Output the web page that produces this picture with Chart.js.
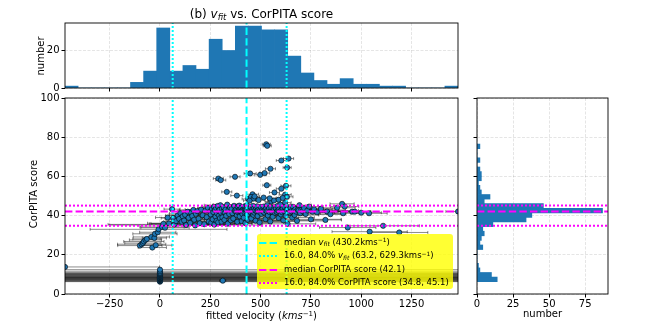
<!DOCTYPE html>
<html><head><meta charset="utf-8">
<script src="https://cdn.jsdelivr.net/npm/chart.js@4.4.0/dist/chart.umd.min.js"></script>
<style>
body{margin:0;background:#fff;}
#wrap{position:relative;width:654px;height:327px;overflow:hidden;font-family:'DejaVu Sans',sans-serif;color:#000;}
canvas{position:absolute;}
.t{position:absolute;white-space:nowrap;line-height:1;}
.rot{transform:translate(-50%,-50%) rotate(-90deg);}
.sub{font-size:70%;position:relative;top:0.25em;font-style:italic;}
.sup{font-size:70%;position:relative;top:-0.45em;}
#legend{position:absolute;left:257px;top:234px;width:196px;height:55px;background:rgba(255,255,0,0.8);border-radius:3px;}
#legend .row{position:absolute;left:0;height:12px;width:196px;}
#legend svg{position:absolute;left:2px;top:4px;}
#legend span.lt{position:absolute;left:27px;top:1px;font-size:8.5px;white-space:nowrap;line-height:1;}
</style></head><body>
<div id="wrap">
<canvas id="cTop" style="left:0;top:0" width="470" height="96"></canvas>
<canvas id="cMain" style="left:0;top:88px" width="470" height="239"></canvas>
<canvas id="cRight" style="left:462px;top:88px" width="192" height="239"></canvas>

<div class="t" style="left:0;width:523px;top:8px;text-align:center;font-size:12px">(b) <i>v</i><span class="sub">fit</span> vs. CorPITA score</div>
<div class="t rot" style="left:41px;top:55.5px;font-size:10px">number</div>
<div class="t rot" style="left:34px;top:194px;font-size:10px">CorPITA score</div>
<div class="t" style="left:261.5px;top:316px;transform:translate(-50%,-50%);font-size:10px">fitted velocity (<i>kms</i><span class="sup">−1</span>)</div>
<div class="t" style="left:542.5px;top:314px;transform:translate(-50%,-50%);font-size:10px">number</div>

<div id="legend">
 <div class="row" style="top:3px"><svg width="18" height="4"><line x1="0" y1="2" x2="18" y2="2" stroke="#00ffff" stroke-width="2" stroke-dasharray="7.4 3.2"/></svg><span class="lt">median <i>v</i><span class="sub">fit</span> (430.2kms<span class="sup">−1</span>)</span></div>
 <div class="row" style="top:16.3px"><svg width="18" height="4"><line x1="0" y1="2" x2="18" y2="2" stroke="#00ffff" stroke-width="2" stroke-dasharray="2 2"/></svg><span class="lt">16.0, 84.0% <i>v</i><span class="sub">fit</span> (63.2, 629.3kms<span class="sup">−1</span>)</span></div>
 <div class="row" style="top:30px"><svg width="18" height="4"><line x1="0" y1="2" x2="18" y2="2" stroke="#ff00ff" stroke-width="2" stroke-dasharray="7.4 3.2"/></svg><span class="lt">median CorPITA score (42.1)</span></div>
 <div class="row" style="top:42.7px"><svg width="18" height="4"><line x1="0" y1="2" x2="18" y2="2" stroke="#ff00ff" stroke-width="2" stroke-dasharray="2 2"/></svg><span class="lt">16.0, 84.0% CorPITA score (34.8, 45.1)</span></div>
</div>
</div>
<script>
// ---------------- data ----------------
const vfit = [
 -472, 0,0,0,0,0,0,0,0,0,0,0,0,0,0,0,0,0,0,0,0,0,0,0,0,0,
 312,
 -100,-91,-85,-80,-72,-65,-43,-38,-28,-25,-21,-11,-7,10,17,25,38,45,
 60,66,72,80,88,95,102,108,113,
 120,125,130,138,142,150,155,160,166,170,175,178,
 185,192,198,205,212,220,226,232,238,243,
 290,302,250,252,255,258,262,265,268,270,273,276,279,281,284,286,289,291,293,296,298,300,303,306,308,310,
 332,373,314,317,320,323,326,329,334,337,340,344,348,352,356,360,364,368,372,
 382,438,378,380,382,384,386,388,390,392,394,396,398,400,402,404,406,408,410,412,414,416,418,420,422,424,426,428,430,432,434,436,440,
 448,498,460,452,465,470,490,445,443,446,449,451,454,457,459,462,464,467,469,472,475,477,480,482,485,487,490,493,495,498,501,504,507,
 528,533,549,520,531,569,553,566,515,545,509,512,515,518,521,524,527,530,533,536,539,542,545,548,551,554,557,560,563,566,570,
 603,632,626,603,622,631,622,590,610,574,577,580,583,586,589,592,595,598,601,604,607,610,613,616,619,622,625,628,631,634,637,
 639,641,645,649,653,657,661,665,669,673,677,681,685,689,693,697,702,
 708,716,724,732,741,750,758,766,
 780,800,822,830,847,880,905,918,910,933,955,968,1000,1039,1042,1109,1189,1481
];
const score = [
 13.8, 6.3,6.5,6.8,7.0,7.2,7.4,7.6,7.8,8.0,8.1,8.3,8.4,8.6,8.8,9.0,9.2,9.4,9.7,9.9,10.1,10.4,10.6,10.9,11.6,12.4,
 6.8,
 24.7,25.4,26.0,26.8,27.6,28.1,29.1,23.7,28.6,30.7,24.9,31.5,33.0,34.2,35.8,33.8,39.0,36.0,
 43.3,38.7,35.5,37.2,40.1,38.3,41.2,36.8,39.6,
 37.5,40.4,35.2,42.0,38.9,36.3,41.5,39.8,42.9,37.9,35.0,40.9,
 42.3,38.4,36.1,43.1,40.2,35.6,42.6,39.2,44.0,37.0,
 58.9,58.1,42.2,40.6,36.4,43.4,38.1,41.8,44.5,35.4,42.9,39.5,43.8,37.3,41.1,44.9,36.6,42.5,40.0,43.0,38.7,45.3,41.5,36.9,43.6,39.1,
 52.1,59.8,42.0,44.2,37.8,41.6,43.1,39.9,45.6,35.9,42.7,40.8,44.0,37.6,43.4,41.2,38.5,45.0,42.4,
 50.2,48.5,42.1,43.5,40.2,36.8,44.6,41.7,42.4,42.9,45.1,39.6,43.0,41.9,42.2,44.1,37.2,42.6,40.7,43.1,42.5,38.9,42.3,41.6,44.8,36.2,43.2,42.0,42.8,45.2,40.5,37.9,43.6,
 61.5,60.8,50.9,49.5,48.7,49.8,47.9,47.6,42.5,43.3,41.8,44.2,38.6,42.9,42.1,45.0,40.4,43.6,41.5,42.7,37.4,43.9,42.2,44.7,39.8,42.4,43.1,41.9,36.5,42.8,44.4,40.9,42.6,
 76.4,75.6,63.9,61.7,55.5,51.8,47.2,47.7,49.2,48.8,43.0,42.1,44.6,41.6,42.9,38.2,43.5,42.3,45.4,40.1,42.7,43.8,41.8,37.0,42.5,44.1,42.0,39.4,43.3,42.8,41.5,
 68.1,64.5,55.2,53.7,50.7,49.6,46.6,48.1,49.0,42.4,43.7,41.9,44.9,42.6,38.8,43.2,42.1,45.6,40.6,42.9,41.7,43.5,37.6,42.3,44.3,42.0,39.9,43.0,42.7,35.8,44.0,
 69.1,42.8,41.6,43.9,42.2,39.0,44.5,42.5,40.3,43.4,42.0,37.3,43.1,42.6,45.3,41.2,42.9,
 42.3,43.8,40.8,42.6,44.6,38.1,42.0,43.2,
 41.7,43.5,37.8,42.1,40.7,44.0,46.0,44.6,41.2,33.9,42.0,42.0,41.5,41.2,31.8,34.8,31.4,42.1
];
const vfitErr = [
 470, 2500,2500,2500,2500,2500,2500,2500,2500,2500,2500,2500,2500,2500,2500,2500,2500,2500,2500,2500,2500,2500,2500,2500,2500,2500,
 15,
 110,120,90,100,80,70,90,70,60,110,80,90,340,110,70,120,60,90,
 40,60,330,50,60,70,55,90,45,
 60,80,380,50,70,90,60,100,70,50,150,80,
 70,90,260,80,100,130,60,70,50,90,
 25,25,80,60,90,70,220,50,60,100,80,60,70,150,90,60,80,50,110,70,60,80,90,70,60,100,
 25,25,60,80,100,70,60,90,70,120,50,80,60,90,70,100,60,80,60,
 30,30,70,90,50,120,60,80,300,70,50,90,60,110,80,60,140,70,90,50,250,80,60,100,70,130,60,90,80,50,110,70,60,
 30,30,30,25,30,25,30,30,80,60,100,70,90,60,320,50,110,70,80,60,150,70,90,60,100,70,60,280,120,70,60,90,80,
 20,20,25,25,20,25,30,30,30,30,70,90,60,350,80,100,60,70,50,120,80,60,90,140,70,60,300,110,70,80,90,
 25,20,25,25,30,30,30,30,30,80,60,90,70,400,100,60,80,50,110,70,90,60,150,80,60,260,100,70,80,140,60,
 25,90,70,60,300,110,60,80,120,70,90,150,70,80,60,100,220,
 100,80,200,90,70,150,120,90,
 90,70,80,100,60,90,60,70,80,140,90,80,100,90,187,180,142,60
];
// histogram of v_fit (30 bins between -472 and 1481)
const vBinCenters = [-439.4,-374.3,-309.2,-244.1,-179.0,-113.9,-48.8,16.3,81.4,146.5,211.6,276.7,341.8,406.9,472.0,537.1,602.2,667.3,732.4,797.5,862.6,927.7,992.8,1057.9,1123.0,1188.1,1253.2,1318.3,1383.4,1448.5];
const vCounts = [1,0,0,0,0,3,9,32,9,12,10,26,20,33,33,31,31,17,8,4,2,5,2,2,1,1,0,0,0,1];
// histogram of CorPITA score (30 bins between 6.3 and 76.5)
const scoreBinCenters = [7.47,9.81,12.15,14.49,16.83,19.17,21.51,23.85,26.19,28.53,30.87,33.21,35.55,37.89,40.23,42.57,44.91,47.25,49.59,51.93,54.27,56.61,58.95,61.29,63.63,65.97,68.31,70.65,72.99,75.33];
const scoreCounts = [14,10,2,1,0,0,0,4,2,3,5,4,11,34,38,87,46,5,9,3,2,1,3,3,2,0,2,0,0,2];
// statistics
const vMedian = 430.2, vP16 = 63.2, vP84 = 629.3;
const sMedian = 42.1, sP16 = 34.8, sP84 = 45.1;
// axes
const vMin = -472, vMax = 1481;
const vTicks = [-250, 0, 250, 500, 750, 1000, 1250];
const vTickLabels = ['\u2212250', '0', '250', '500', '750', '1000', '1250'];
const scoreTicks = [0, 20, 40, 60, 80, 100];
const scoreTickLabels = ['0', '20', '40', '60', '80', '100'];
const vHistTicks = [0, 20];
const sHistTicks = [0, 25, 50, 75];

// ---------------- styling / plugins ----------------
Chart.defaults.font.family = "'DejaVu Sans', sans-serif";
Chart.defaults.font.size = 10;
Chart.defaults.color = '#000';

const CYAN = '#00ffff', MAGENTA = '#ff00ff', BLUE = '#1f77b4';
const DASH = [7.4, 3.2], DOT = [2, 2];

const framePlugin = {
  id: 'frame',
  afterDraw(chart) {
    const {ctx, chartArea: a} = chart;
    ctx.save();
    ctx.strokeStyle = '#000';
    ctx.lineWidth = 0.9;
    ctx.strokeRect(a.left, a.top, a.right - a.left, a.bottom - a.top);
    ctx.restore();
  }
};
const refLines = {
  id: 'refLines',
  afterDatasetsDraw(chart, args, opts) {
    const {ctx, chartArea: a, scales} = chart;
    ctx.save();
    ctx.beginPath(); ctx.rect(a.left, a.top, a.right - a.left, a.bottom - a.top); ctx.clip();
    ctx.lineWidth = 2;
    (opts.v || []).forEach(l => {
      const x = scales.x.getPixelForValue(l.value);
      ctx.strokeStyle = l.color; ctx.setLineDash(l.dash);
      ctx.beginPath(); ctx.moveTo(x, a.bottom); ctx.lineTo(x, a.top); ctx.stroke();
    });
    (opts.h || []).forEach(l => {
      const y = scales.y.getPixelForValue(l.value);
      ctx.strokeStyle = l.color; ctx.setLineDash(l.dash);
      ctx.beginPath(); ctx.moveTo(a.left, y); ctx.lineTo(a.right, y); ctx.stroke();
    });
    ctx.restore();
  }
};
const errBars = {
  id: 'errBars',
  beforeDatasetsDraw(chart) {
    const {ctx, chartArea: a, scales: {x, y}} = chart;
    ctx.save();
    ctx.beginPath(); ctx.rect(a.left, a.top, a.right - a.left, a.bottom - a.top); ctx.clip();
    ctx.strokeStyle = 'rgba(0,0,0,0.45)';
    ctx.lineWidth = 1;
    for (let i = 0; i < vfit.length; i++) {
      const py = y.getPixelForValue(score[i]);
      const x1 = x.getPixelForValue(vfit[i] - vfitErr[i]);
      const x2 = x.getPixelForValue(vfit[i] + vfitErr[i]);
      ctx.beginPath();
      ctx.moveTo(x1, py); ctx.lineTo(x2, py);
      ctx.moveTo(x1, py - 1.5); ctx.lineTo(x1, py + 1.5);
      ctx.moveTo(x2, py - 1.5); ctx.lineTo(x2, py + 1.5);
      ctx.stroke();
    }
    ctx.restore();
  }
};

const gridOpts = {color: 'rgba(0,0,0,0.13)', lineWidth: 0.8, tickColor: '#000', tickWidth: 1, tickLength: 3.5, offset: false};
const borderOpts = {display: false, dash: [3, 1.5]};
function setTicks(list) { return s => { s.ticks = list.map(v => ({value: v})); }; }

// ---------------- top histogram ----------------
new Chart(document.getElementById('cTop'), {
  type: 'bar',
  data: {datasets: [{
    data: vBinCenters.map((c, i) => ({x: c, y: vCounts[i]})),
    backgroundColor: BLUE, borderWidth: 0, barPercentage: 1, categoryPercentage: 1
  }]},
  options: {
    responsive: false, animation: false,
    layout: {padding: {top: 23, right: 12, left: 0, bottom: 0}},
    plugins: {legend: {display: false}, tooltip: {enabled: false},
      refLines: {v: [{value: vP16, color: CYAN, dash: DOT}, {value: vMedian, color: CYAN, dash: DASH}, {value: vP84, color: CYAN, dash: DOT}]}},
    scales: {
      x: {type: 'linear', min: vMin, max: vMax, offset: false,
          afterBuildTicks: setTicks(vTicks), afterFit: s => { s.height = 8; },
          ticks: {callback: () => '', autoSkip: false, maxRotation: 0},
          grid: gridOpts, border: borderOpts},
      y: {type: 'linear', min: 0, max: 34.65,
          afterBuildTicks: setTicks(vHistTicks), afterFit: s => { s.width = 65; },
          ticks: {padding: 2, autoSkip: false},
          grid: gridOpts, border: borderOpts}
    }
  },
  plugins: [refLines, framePlugin]
});

// ---------------- main scatter ----------------
new Chart(document.getElementById('cMain'), {
  type: 'scatter',
  data: {datasets: [{
    data: vfit.map((v, i) => ({x: v, y: score[i]})),
    pointRadius: 2.6, pointBackgroundColor: BLUE, pointBorderColor: '#000', pointBorderWidth: 0.6,
    clip: 0
  }]},
  options: {
    responsive: false, animation: false,
    layout: {padding: {top: 10, right: 12, left: 0, bottom: 0}},
    plugins: {legend: {display: false}, tooltip: {enabled: false},
      refLines: {
        v: [{value: vP16, color: CYAN, dash: DOT}, {value: vMedian, color: CYAN, dash: DASH}, {value: vP84, color: CYAN, dash: DOT}],
        h: [{value: sP16, color: MAGENTA, dash: DOT}, {value: sMedian, color: MAGENTA, dash: DASH}, {value: sP84, color: MAGENTA, dash: DOT}]
      }},
    scales: {
      x: {type: 'linear', min: vMin, max: vMax,
          afterBuildTicks: setTicks(vTicks), afterFit: s => { s.height = 33; },
          ticks: {callback: (v, i) => vTickLabels[i], autoSkip: false, maxRotation: 0, padding: 1},
          grid: gridOpts, border: borderOpts},
      y: {type: 'linear', min: 0, max: 100,
          afterBuildTicks: setTicks(scoreTicks), afterFit: s => { s.width = 65; },
          ticks: {callback: (v, i) => scoreTickLabels[i], padding: 2, autoSkip: false},
          grid: gridOpts, border: borderOpts}
    }
  },
  plugins: [errBars, refLines, framePlugin]
});

// ---------------- right histogram ----------------
new Chart(document.getElementById('cRight'), {
  type: 'bar',
  data: {datasets: [{
    data: scoreBinCenters.map((c, i) => ({y: c, x: scoreCounts[i]})),
    backgroundColor: BLUE, borderWidth: 0, barPercentage: 1, categoryPercentage: 1
  }]},
  options: {
    indexAxis: 'y',
    responsive: false, animation: false,
    layout: {padding: {top: 10, right: 46, left: 0, bottom: 0}},
    plugins: {legend: {display: false}, tooltip: {enabled: false},
      refLines: {h: [{value: sP16, color: MAGENTA, dash: DOT}, {value: sMedian, color: MAGENTA, dash: DASH}, {value: sP84, color: MAGENTA, dash: DOT}]}},
    scales: {
      x: {type: 'linear', min: 0, max: 90.8, offset: false,
          afterBuildTicks: setTicks(sHistTicks), afterFit: s => { s.height = 33; },
          ticks: {padding: 1, autoSkip: false, maxRotation: 0},
          grid: gridOpts, border: borderOpts},
      y: {type: 'linear', min: 0, max: 100, offset: false,
          afterBuildTicks: setTicks(scoreTicks), afterFit: s => { s.width = 15; },
          ticks: {callback: () => '', autoSkip: false},
          grid: gridOpts, border: borderOpts}
    }
  },
  plugins: [refLines, framePlugin]
});
</script>
</body></html>
